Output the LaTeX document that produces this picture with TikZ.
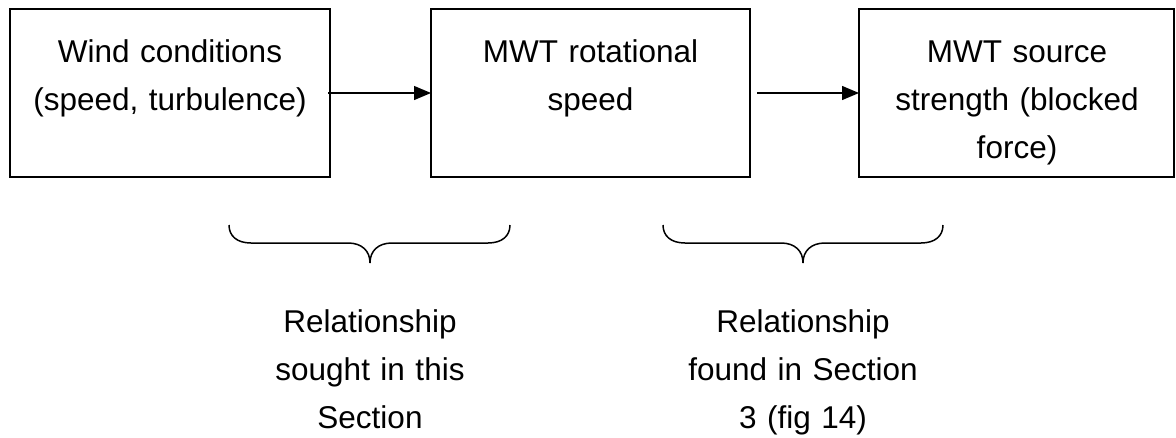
\documentclass[tikz,border=0pt]{standalone}
\usepackage{fontspec}
\setmainfont{Liberation Sans}
\usetikzlibrary{arrows.meta}
\begin{document}
\begin{tikzpicture}[x=1pt, y=-1pt,
  stage/.style={draw, line width=1.6pt, minimum width=#1, minimum height=168pt,
    inner sep=0pt, outer sep=0pt, anchor=north west},
  txt/.style={text width=330pt, align=center, inner sep=0pt, anchor=base,
    font=\fontsize{31.5}{48}\selectfont},
  flow/.style={line width=1.3pt, -{Triangle[length=17pt, width=14pt]}},
  bracepath/.style={line width=1.5pt}]
  \useasboundingbox (0,0) rectangle (1176,437);

  % process stages
  \node[stage=320pt] (b1) at (10,9) {};
  \node[stage=319pt] (b2) at (431,9) {};
  \node[stage=315pt] (b3) at (859,9) {};

  \node[txt] (t1) at (170,62) {Wind conditions\\(speed, turbulence)};
  \node[txt] (t2) at (590.5,62) {MWT rotational\\speed};
  \node[txt] (t3) at (1017,62) {MWT source\\strength (blocked\\force)};

  % flow between stages
  \draw[flow, shorten <=-2pt] (b1.east) -- (b2.west);
  \draw[flow, shorten <=7pt] (b2.east) -- (b3.west);

  % braces under each pair of stages
  \coordinate (l1) at (229,225);
  \coordinate (m1) at (370,263);
  \coordinate (r1) at (510,225);
  \draw[bracepath] (l1) .. controls (229,236) and (237,243) .. (251,243)
    -- (348,243) .. controls (362,243) and (370,251) .. (m1)
    .. controls (370,251) and (378,243) .. (392,243)
    -- (488,243) .. controls (502,243) and (510,236) .. (r1);

  \coordinate (l2) at (663,225);
  \coordinate (m2) at (803,263);
  \coordinate (r2) at (943,225);
  \draw[bracepath] (l2) .. controls (663,236) and (671,243) .. (685,243)
    -- (781,243) .. controls (795,243) and (803,251) .. (m2)
    .. controls (803,251) and (811,243) .. (825,243)
    -- (921,243) .. controls (935,243) and (943,236) .. (r2);

  % captions
  \node[txt] (c1) at (370,332) {Relationship\\sought in this\\Section};
  \node[txt] (c2) at (803,332) {Relationship\\found in Section\\3 (fig 14)};
\end{tikzpicture}
\end{document}
